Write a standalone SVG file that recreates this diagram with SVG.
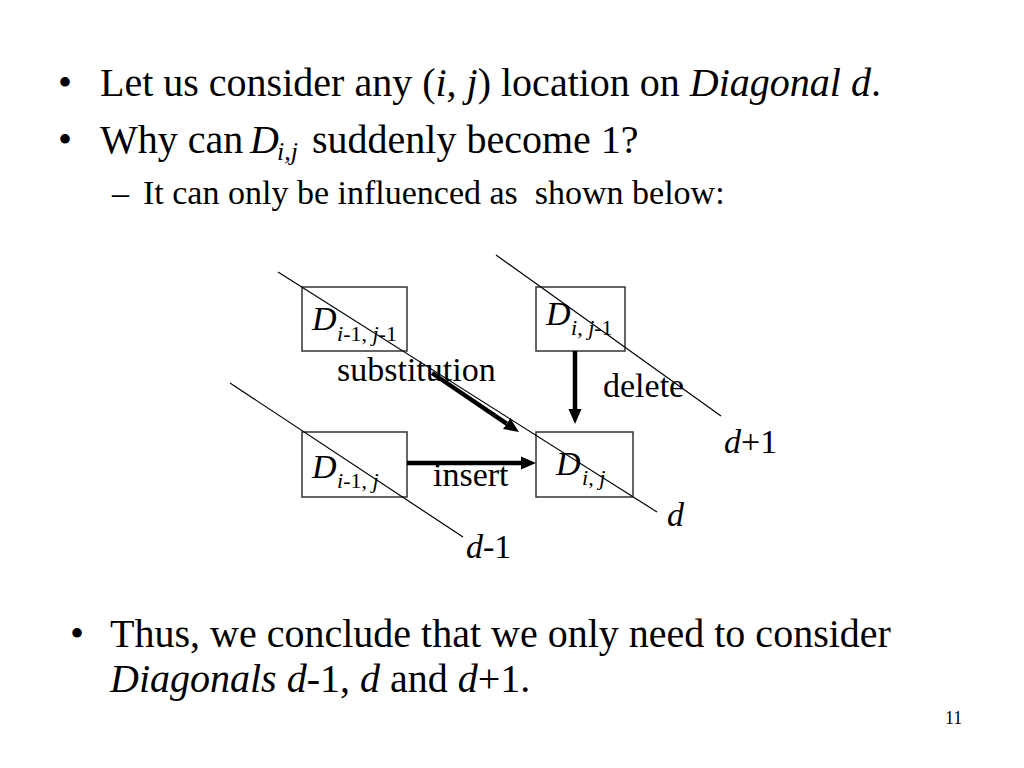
<svg xmlns="http://www.w3.org/2000/svg" width="1024" height="768" viewBox="0 0 1024 768">
<style>
text{font-family:"Liberation Serif","Times New Roman",serif;fill:#000}
.b{font-size:40px}
.s{font-size:34px}
.it{font-style:italic}
.sub{font-size:22px}
.box{fill:none;stroke:#333;stroke-width:1.5}
.diag{stroke:#000;stroke-width:1.2;fill:none}
.arr{stroke:#000;stroke-width:4.5;fill:none}
</style>
<defs>
<marker id="ah" markerUnits="userSpaceOnUse" markerWidth="16" markerHeight="14" refX="0" refY="7" orient="auto">
<path d="M0,0.5 L15,7 L0,13.5 z" fill="#000"/>
</marker>
</defs>
<rect width="1024" height="768" fill="#fff"/>

<g id="bullets">
<text class="b" x="58" y="96">•</text>
<text class="b" x="100" y="96">Let us consider any (<tspan class="it">i, j</tspan>) location on <tspan class="it">Diagonal d</tspan>.</text>
<text class="b" x="58" y="153">•</text>
<text class="b" x="100" y="153">Why can</text>
<text class="b it" x="250" y="153">D</text>
<text class="it" style="font-size:26px" x="277" y="160">i,j</text>
<text class="b" x="312" y="153">suddenly become 1?</text>
<text class="s" x="112" y="204">–</text>
<text class="s" x="143" y="204" xml:space="preserve">It can only be influenced as  shown below:</text>
<text class="b" x="70" y="647">•</text>
<text class="b" x="110" y="647">Thus, we conclude that we only need to consider</text>
<text class="b" x="110" y="692"><tspan class="it">Diagonals d</tspan>-1, <tspan class="it">d</tspan> and <tspan class="it">d</tspan>+1.</text>
<text x="945" y="724" style="font-size:18px">11</text>
</g>

<g id="node-dim1jm1">
<rect class="box" x="302" y="287" width="105" height="64"/>
<text class="s it" x="312" y="330">D</text>
<text class="sub" x="337" y="341"><tspan class="it">i</tspan>-1, <tspan class="it">j</tspan>-1</text>
</g>
<g id="node-dijm1">
<rect class="box" x="536" y="287" width="89" height="64"/>
<text class="s it" x="546" y="325">D</text>
<text class="sub" x="571" y="335"><tspan class="it">i</tspan>, <tspan class="it">j</tspan>-1</text>
</g>
<g id="node-dim1j">
<rect class="box" x="302" y="432" width="105" height="65"/>
<text class="s it" x="312" y="478">D</text>
<text class="sub" x="337" y="488"><tspan class="it">i</tspan>-1, <tspan class="it">j</tspan></text>
</g>
<g id="node-dij">
<rect class="box" x="536" y="432" width="97" height="65"/>
<text class="s it" x="556" y="475">D</text>
<text class="sub" x="582" y="485"><tspan class="it">i</tspan>, <tspan class="it">j</tspan></text>
</g>

<g id="labels">
<text class="s" x="337" y="381">substitution</text>
<text class="s" x="603" y="397">delete</text>
<text class="s" x="433" y="486">insert</text>
<text class="s" x="724" y="453"><tspan class="it">d</tspan>+1</text>
<text class="s it" x="667" y="526">d</text>
<text class="s" x="466" y="558"><tspan class="it">d</tspan>-1</text>
</g>

<g id="diagonals">
<line class="diag" x1="496" y1="255" x2="721" y2="416"/>
<line class="diag" x1="278" y1="272" x2="657" y2="512"/>
<line class="diag" x1="230" y1="383" x2="463" y2="537"/>
</g>

<g id="connectors">
<line class="arr" x1="432" y1="373" x2="506.6" y2="423.6" marker-end="url(#ah)"/>
<line class="arr" x1="575" y1="351" x2="575" y2="409" marker-end="url(#ah)"/>
<line class="arr" x1="407" y1="463" x2="521" y2="463" marker-end="url(#ah)"/>
</g>
</svg>
